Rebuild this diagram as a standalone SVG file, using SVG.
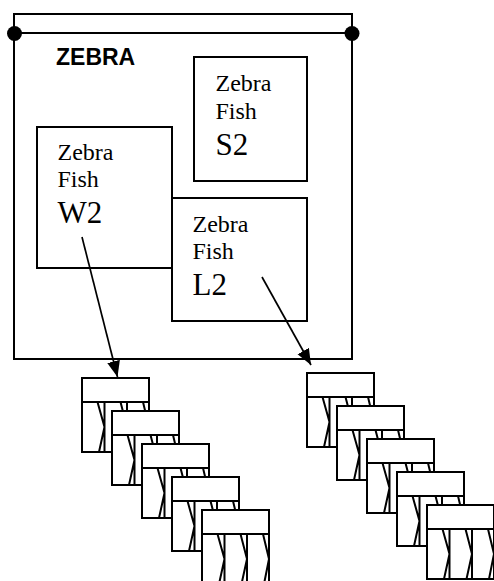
<svg xmlns="http://www.w3.org/2000/svg" xmlns:xlink="http://www.w3.org/1999/xlink" width="494" height="581" viewBox="0 0 494 581">
  <style>
    .box { fill: #ffffff; stroke: #000000; stroke-width: 2; }
    .ln { fill: none; stroke: #000000; stroke-width: 2; }
    .wire { fill: none; stroke: #000000; stroke-width: 1.7; }
    .title { font-family: "Liberation Sans", Arial, sans-serif; font-weight: bold; font-size: 23px; fill: #000000; }
    .lbl { font-family: "Liberation Serif", "Times New Roman", serif; font-size: 24px; fill: #000000; }
    .code { font-family: "Liberation Serif", "Times New Roman", serif; font-size: 31px; fill: #000000; }
  </style>
  <defs>
    <marker id="arrow" markerUnits="userSpaceOnUse" markerWidth="17" markerHeight="14" refX="16" refY="6.5" orient="auto">
      <path d="M0,0 L16,6.5 L0,13 Z" fill="#000000"/>
    </marker>
    <!-- register chip: header band above three chevron cells -->
    <g id="chip">
      <rect class="box" x="0" y="0" width="67" height="74"/>
      <path class="ln" d="M0,24 H67"/>
      <path class="ln" d="M15.5,24 L22.5,49 L17,74 M22.5,24 V74 M38.5,24 L45,49 L39.5,74 M45,24 V74 M61,24 L67,49 L62,74"/>
    </g>
  </defs>

  <rect width="494" height="581" fill="#ffffff"/>

  <!-- enclosing ZEBRA unit with its top rail -->
  <g id="zebra">
    <rect class="box" x="14" y="14" width="338" height="345"/>
    <path class="ln" d="M14,33 H352"/>
    <circle cx="14.5" cy="33.5" r="7.5" fill="#000000"/>
    <circle cx="352" cy="33.5" r="7.5" fill="#000000"/>
    <text class="title" x="56" y="65">ZEBRA</text>
  </g>

  <g id="fish-s2">
    <rect class="box" x="194" y="57" width="113" height="124"/>
    <text class="lbl" x="215.5" y="91">Zebra</text>
    <text class="lbl" x="215.5" y="119">Fish</text>
    <text class="code" x="215.5" y="155">S2</text>
  </g>

  <g id="fish-w2">
    <rect class="box" x="37" y="127" width="135" height="141"/>
    <text class="lbl" x="57.5" y="160">Zebra</text>
    <text class="lbl" x="57.5" y="187">Fish</text>
    <text class="code" x="57.5" y="223">W2</text>
  </g>

  <g id="fish-l2">
    <rect class="box" x="172" y="198" width="135" height="123"/>
    <text class="lbl" x="192.5" y="232">Zebra</text>
    <text class="lbl" x="192.5" y="259">Fish</text>
    <text class="code" x="192.5" y="295">L2</text>
  </g>

  <!-- register stack fed by W2 -->
  <g id="stack-w2">
    <use xlink:href="#chip" x="82" y="378"/>
    <use xlink:href="#chip" x="112" y="411"/>
    <use xlink:href="#chip" x="142" y="444"/>
    <use xlink:href="#chip" x="172" y="477"/>
    <use xlink:href="#chip" x="202" y="510"/>
  </g>

  <!-- register stack fed by L2 -->
  <g id="stack-l2">
    <use xlink:href="#chip" x="307" y="373"/>
    <use xlink:href="#chip" x="337" y="406"/>
    <use xlink:href="#chip" x="367" y="439"/>
    <use xlink:href="#chip" x="397" y="472"/>
    <use xlink:href="#chip" x="427" y="505"/>
  </g>

  <g id="connectors">
    <path class="wire" d="M82,237 L117.5,377" marker-end="url(#arrow)"/>
    <path class="wire" d="M262,277 L311,365" marker-end="url(#arrow)"/>
  </g>
</svg>
